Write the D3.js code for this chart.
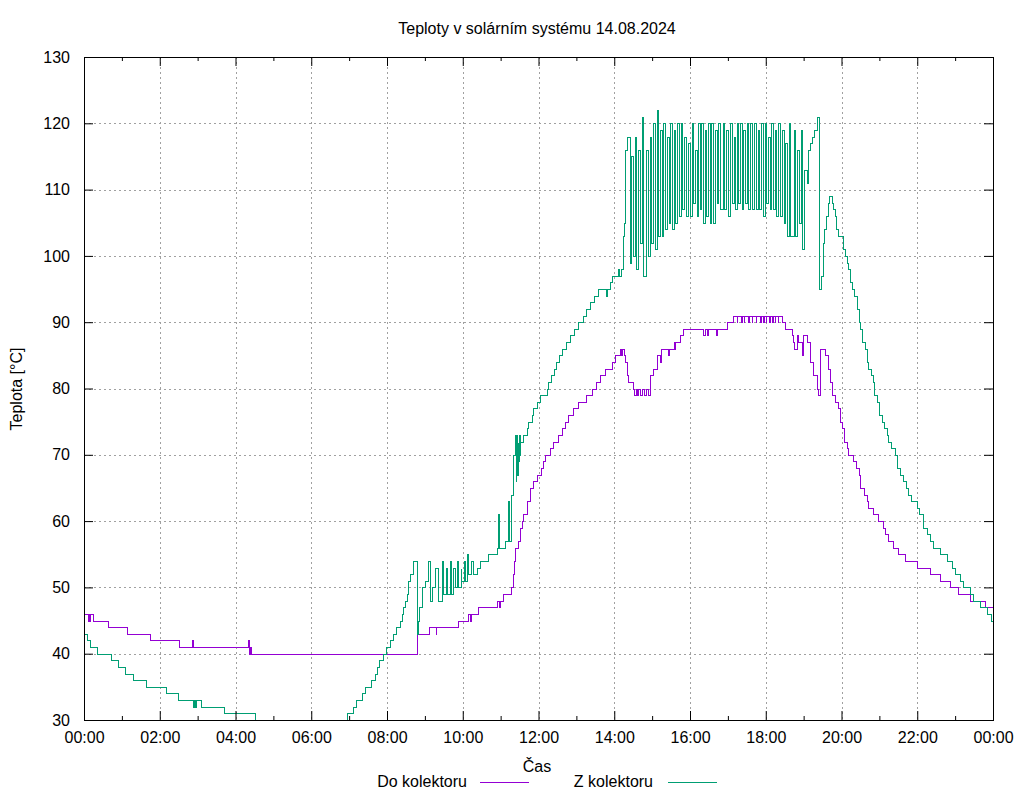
<!DOCTYPE html>
<html>
<head>
<meta charset="utf-8">
<script src="https://cdn.jsdelivr.net/npm/d3@7"></script>
<style>
  body { margin: 0; background: #fff; }
  text { font-family: "Liberation Sans", Arial, sans-serif; fill: #000; }
  .grid line { stroke: #a0a0a0; stroke-dasharray: 2,3; }
  .axis path { display: none; }
  .axis line { stroke: #000; }
  .series { fill: none; stroke-width: 1; shape-rendering: crispEdges; }
</style>
</head>
<body>
<div id="chart"></div>
<script>
// cas (HH:MM), teplota [°C]
var doKolektoru = [
  ["00:00",46],["00:06",45],["00:07",46],["00:08",45],["00:09",46],["00:14",45],["00:38",44],["01:08",43],["01:45",42],
  ["02:30",41],["02:51",42],["02:53",41],["04:20",42],["04:21",41],["04:22",40],["04:23",41],["04:24",40],
  ["08:47",42],["08:48",43],["09:07",44],["09:17",43],["09:18",44],["09:52",45],["10:08",46],["10:12",45],["10:13",46],
  ["10:24",47],["10:54",48],["10:58",47],["10:59",48],["11:04",49],["11:17",50],["11:19",52],["11:21",54],["11:23",56],
  ["11:27",57],["11:31",59],["11:34",60],["11:36",61],["11:41",63],["11:46",65],["11:52",66],["11:57",67],["12:04",68],
  ["12:07",69],["12:10",70],["12:18",71],["12:23",72],["12:31",73],["12:37",74],["12:42",75],["12:47",76],["12:55",77],
  ["13:03",78],["13:16",79],["13:24",80],["13:31",81],["13:37",82],["13:45",83],["13:56",84],["14:01",85],["14:09",86],
  ["14:11",85],["14:12",86],["14:15",85],["14:17",84],["14:20",82],["14:22",81],["14:30",80],["14:32",79],["14:34",80],
  ["14:36",79],["14:38",80],["14:41",79],["14:44",80],["14:47",79],["14:50",80],["14:53",79],["14:57",82],["15:02",83],
  ["15:08",85],["15:12",84],["15:14",86],["15:25",85],["15:26",86],["15:34",87],["15:36",86],["15:37",87],["15:44",88],
  ["15:49",89],["16:21",88],["16:23",89],["16:27",88],["16:29",89],["16:41",88],["16:43",89],["16:58",90],["17:08",91],
  ["17:14",90],["17:15",91],["17:21",90],["17:22",91],["17:25",90],["17:26",91],["17:32",90],["17:33",91],["17:38",90],
  ["17:39",91],["17:44",90],["17:45",91],["17:51",90],["17:52",91],["17:56",90],["17:57",91],["18:00",90],["18:01",91],
  ["18:05",90],["18:06",91],["18:10",90],["18:11",91],["18:14",90],["18:15",91],["18:19",90],["18:20",91],["18:25",90],
  ["18:30",89],["18:41",88],["18:43",87],["18:44",86],["18:49",88],["18:51",87],["18:57",85],["18:59",88],["19:05",87],
  ["19:10",84],["19:15",82],["19:21",80],["19:23",79],["19:26",86],["19:34",85],["19:39",83],["19:42",81],["19:45",79],
  ["19:50",78],["19:55",77],["19:58",75],["20:00",74],["20:04",72],["20:08",71],["20:11",70],["20:19",69],["20:23",68],
  ["20:27",67],["20:29",65],["20:35",64],["20:40",63],["20:42",62],["20:50",61],["20:58",60],["21:05",59],["21:09",58],
  ["21:14",57],["21:22",56],["21:30",55],["21:41",54],["21:59",53],["22:20",52],["22:36",51],["22:52",50],["23:05",49],
  ["23:24",48],["23:47",47],["24:00",47]
];

var zKolektoru = [
  ["00:00",43],["00:04",42],["00:10",41],["00:20",40],["00:42",39],["00:54",38],["01:05",37],["01:17",36],["01:38",35],
  ["02:10",34],["02:29",33],["02:53",32],["02:54",33],["02:56",32],["02:57",33],["03:05",32],["03:41",31],["04:31",29],
  ["05:10",28],["05:50",27],["06:30",28],["06:45",29],["06:55",30],["06:57",31],["07:06",32],["07:11",33],["07:21",34],
  ["07:25",35],["07:34",36],["07:41",37],["07:44",38],["07:48",39],["07:54",40],["07:59",41],["08:05",42],["08:10",43],
  ["08:15",44],["08:21",45],["08:23",46],["08:26",47],["08:29",48],["08:31",49],["08:34",51],["08:36",52],["08:41",54],
  ["08:48",43],["08:49",45],["08:51",47],["08:55",50],["09:00",51],["09:05",54],["09:08",48],["09:11",50],["09:16",53],
  ["09:21",48],["09:27",54],["09:29",49],["09:33",53],["09:35",49],["09:40",54],["09:42",49],["09:45",53],["09:48",50],
  ["09:51",54],["09:53",50],["09:57",53],["09:58",51],["10:02",54],["10:04",51],["10:07",55],["10:09",52],["10:13",54],
  ["10:17",52],["10:22",53],["10:27",54],["10:40",55],["10:54",56],["10:56",61],["10:57",56],["11:07",57],["11:12",63],
  ["11:13",57],["11:17",64],["11:20",70],["11:23",73],["11:24",66],["11:25",73],["11:26",67],["11:27",72],["11:28",69],
  ["11:29",73],["11:30",70],["11:31",72],["11:36",73],["11:41",74],["11:44",75],["11:49",76],["11:52",77],["11:57",78],
  ["12:02",79],["12:13",80],["12:15",81],["12:20",82],["12:24",83],["12:28",84],["12:33",85],["12:38",86],["12:44",87],
  ["12:50",88],["12:57",89],["13:03",90],["13:10",91],["13:15",92],["13:22",93],["13:28",94],["13:35",95],["13:47",94],
  ["13:48",95],["13:53",96],["13:56",97],["14:06",98],["14:08",97],["14:10",98],["14:14",103],["14:16",105],["14:17",116],
  ["14:20",118],["14:25",99],["14:27",115],["14:30",100],["14:33",118],["14:35",98],["14:38",116],["14:41",102],
  ["14:44",121],["14:46",97],["14:50",116],["14:53",100],["14:57",118],["14:59",102],["15:02",120],["15:04",101],
  ["15:07",122],["15:10",103],["15:12",119],["15:15",103],["15:18",120],["15:20",104],["15:23",118],["15:26",105],
  ["15:28",120],["15:31",104],["15:34",119],["15:36",105],["15:40",120],["15:43",106],["15:46",120],["15:48",107],
  ["15:51",118],["15:54",106],["15:57",117],["16:00",106],["16:03",120],["16:05",108],["16:08",116],["16:11",106],
  ["16:13",120],["16:16",107],["16:18",120],["16:21",105],["16:24",119],["16:26",106],["16:29",120],["16:32",105],
  ["16:34",120],["16:37",105],["16:40",119],["16:42",108],["16:45",120],["16:47",107],["16:52",120],["16:54",107],
  ["16:57",119],["17:00",106],["17:03",120],["17:06",108],["17:09",118],["17:11",107],["17:14",120],["17:16",108],
  ["17:19",120],["17:22",107],["17:24",119],["17:27",108],["17:30",120],["17:32",107],["17:35",120],["17:38",107],
  ["17:41",120],["17:44",107],["17:47",119],["17:50",107],["17:52",120],["17:55",106],["17:59",120],["18:01",108],
  ["18:04",118],["18:07",107],["18:09",120],["18:12",107],["18:15",119],["18:17",106],["18:20",120],["18:22",106],
  ["18:25",119],["18:29",105],["18:31",117],["18:34",103],["18:37",120],["18:39",103],["18:44",119],["18:46",103],
  ["18:49",116],["18:52",105],["18:56",119],["18:58",101],["19:00",113],["19:05",111],["19:07",116],["19:10",117],
  ["19:13",118],["19:16",119],["19:21",121],["19:24",95],["19:27",97],["19:30",102],["19:33",104],["19:36",106],
  ["19:38",108],["19:40",109],["19:45",108],["19:47",107],["19:50",106],["19:52",104],["19:55",103],["20:03",101],
  ["20:05",100],["20:08",99],["20:11",98],["20:13",96],["20:16",95],["20:20",94],["20:24",92],["20:27",90],["20:29",89],
  ["20:33",87],["20:37",86],["20:40",84],["20:42",83],["20:46",82],["20:50",81],["20:51",79],["20:57",78],["21:00",76],
  ["21:04",75],["21:07",74],["21:12",73],["21:14",72],["21:18",71],["21:25",70],["21:28",68],["21:33",67],["21:38",66],
  ["21:42",65],["21:46",64],["21:50",63],["21:59",62],["22:03",61],["22:09",59],["22:15",58],["22:20",57],["22:25",56],
  ["22:36",55],["22:47",54],["22:55",53],["23:00",52],["23:08",51],["23:13",50],["23:24",49],["23:29",48],["23:39",47],
  ["23:50",46],["23:57",45],["24:00",45]
];

var xMajorTicks = ["00:00","02:00","04:00","06:00","08:00","10:00","12:00","14:00","16:00","18:00","20:00","22:00","24:00"];
var xMinorTicks = ["01:00","03:00","05:00","07:00","09:00","11:00","13:00","15:00","17:00","19:00","21:00","23:00"];
var yTicks = [30, 40, 50, 60, 70, 80, 90, 100, 110, 120, 130];

var width = 1024, height = 800;
var plotLeft = 84, plotRight = 993, plotTop = 57, plotBottom = 720;
var fontSize = 16;

function toMin(s) {
    var p = s.split(":");
    return +p[0] * 60 + +p[1];
}
function fmtTime(m) {
    var h = Math.floor(m / 60) % 24;
    return (h < 10 ? "0" : "") + h + ":00";
}

var svg = d3.select("#chart").append("svg")
    .attr("width", width)
    .attr("height", height);

var x = d3.scaleLinear().domain([0, 1440]).range([plotLeft, plotRight]);
var y = d3.scaleLinear().domain([30, 130]).range([plotBottom, plotTop]);

// grid
var grid = svg.append("g").attr("class", "grid");
grid.selectAll(".gx")
    .data(xMajorTicks.map(toMin).filter(function(d) { return d > 0 && d < 1440; }))
    .enter().append("line")
    .attr("x1", function(d) { return Math.round(x(d)) + 0.5; })
    .attr("x2", function(d) { return Math.round(x(d)) + 0.5; })
    .attr("y1", plotTop).attr("y2", plotBottom);
grid.selectAll(".gy")
    .data(yTicks.filter(function(d) { return d > 30 && d < 130; }))
    .enter().append("line")
    .attr("x1", plotLeft).attr("x2", plotRight)
    .attr("y1", function(d) { return Math.round(y(d)) + 0.5; })
    .attr("y2", function(d) { return Math.round(y(d)) + 0.5; });

// series
svg.append("defs").append("clipPath").attr("id", "plot")
    .append("rect")
    .attr("x", plotLeft).attr("y", plotTop)
    .attr("width", plotRight - plotLeft).attr("height", plotBottom - plotTop);

var line = d3.line()
    .curve(d3.curveStepAfter)
    .x(function(d) { return Math.round(x(toMin(d[0]))) + 0.5; })
    .y(function(d) { return Math.round(y(d[1])) + 0.5; });

svg.append("path").datum(doKolektoru)
    .attr("class", "series")
    .attr("clip-path", "url(#plot)")
    .attr("stroke", "#9400d3")
    .attr("d", line);

svg.append("path").datum(zKolektoru)
    .attr("class", "series")
    .attr("clip-path", "url(#plot)")
    .attr("stroke", "#009e73")
    .attr("d", line);

// axes (ticks inward, mirrored)
var xMaj = xMajorTicks.map(toMin), xMin = xMinorTicks.map(toMin);

svg.append("g").attr("class", "axis")
    .attr("transform", "translate(0," + plotBottom + ")")
    .call(d3.axisBottom(x).tickValues(xMaj).tickSize(-9).tickPadding(12).tickFormat(fmtTime));
svg.append("g").attr("class", "axis")
    .attr("transform", "translate(0," + plotBottom + ")")
    .call(d3.axisBottom(x).tickValues(xMin).tickSize(-4).tickFormat(""));
svg.append("g").attr("class", "axis")
    .attr("transform", "translate(0," + plotTop + ")")
    .call(d3.axisTop(x).tickValues(xMaj).tickSize(-9).tickFormat(""));
svg.append("g").attr("class", "axis")
    .attr("transform", "translate(0," + plotTop + ")")
    .call(d3.axisTop(x).tickValues(xMin).tickSize(-4).tickFormat(""));

svg.append("g").attr("class", "axis")
    .attr("transform", "translate(" + plotLeft + ",0)")
    .call(d3.axisLeft(y).tickValues(yTicks).tickSize(-9).tickPadding(14));
svg.append("g").attr("class", "axis")
    .attr("transform", "translate(" + plotRight + ",0)")
    .call(d3.axisRight(y).tickValues(yTicks).tickSize(-9).tickFormat(""));

svg.selectAll(".axis text")
    .attr("font-family", "Liberation Sans, Arial, sans-serif")
    .attr("font-size", fontSize);

// border
svg.append("rect")
    .attr("x", plotLeft + 0.5).attr("y", plotTop + 0.5)
    .attr("width", plotRight - plotLeft).attr("height", plotBottom - plotTop)
    .attr("fill", "none").attr("stroke", "#000").attr("stroke-width", 1);

// texts
svg.append("text")
    .attr("x", 537).attr("y", 34)
    .attr("text-anchor", "middle")
    .attr("font-size", fontSize)
    .text("Teploty v solárním systému 14.08.2024");

svg.append("text")
    .attr("transform", "translate(22,389) rotate(-90)")
    .attr("text-anchor", "middle")
    .attr("font-size", fontSize)
    .text("Teplota [°C]");

svg.append("text")
    .attr("x", 537).attr("y", 772)
    .attr("text-anchor", "middle")
    .attr("font-size", fontSize)
    .text("Čas");

// legend
var legend = [
    { name: "Do kolektoru", color: "#9400d3", textX: 467, lineX: 480 },
    { name: "Z kolektoru", color: "#009e73", textX: 653, lineX: 668 }
];
legend.forEach(function(l) {
    svg.append("text")
        .attr("x", l.textX).attr("y", 787)
        .attr("text-anchor", "end")
        .attr("font-size", fontSize)
        .text(l.name);
    svg.append("line")
        .attr("x1", l.lineX).attr("x2", l.lineX + 49)
        .attr("y1", 782.5).attr("y2", 782.5)
        .attr("stroke", l.color).attr("stroke-width", 1);
});
</script>
</body>
</html>
